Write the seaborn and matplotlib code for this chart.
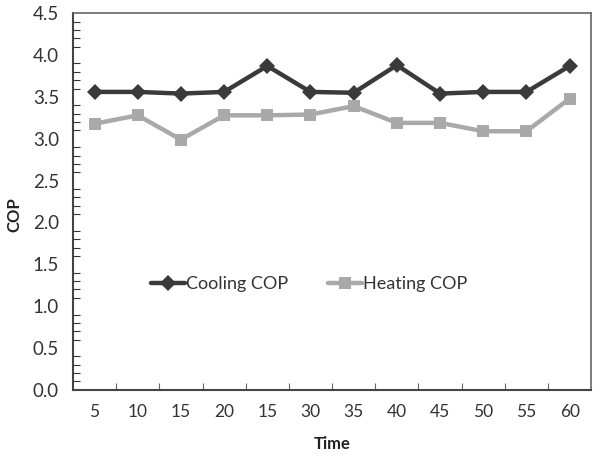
import numpy as np
import pandas as pd
import matplotlib
matplotlib.use("Agg")
import matplotlib.pyplot as plt
import seaborn as sns
from matplotlib.ticker import MultipleLocator, FixedLocator

# Data
time_labels = ["5", "10", "15", "20", "15", "30", "35", "40", "45", "50", "55", "60"]
cooling_cop = [3.56, 3.56, 3.54, 3.56, 3.87, 3.56, 3.55, 3.88, 3.54, 3.56, 3.56, 3.87]
heating_cop = [3.18, 3.28, 2.99, 3.28, 3.28, 3.29, 3.39, 3.19, 3.19, 3.09, 3.09, 3.48]

sns.set_theme(style="white")
plt.rcParams["font.family"] = ["Lato", "DejaVu Sans"]

pos = np.arange(len(time_labels))
df = pd.DataFrame({"pos": np.concatenate([pos, pos]),
                   "COP": cooling_cop + heating_cop,
                   "series": ["Cooling COP"] * len(pos) + ["Heating COP"] * len(pos)})

fig = plt.figure(figsize=(5.93, 4.57), dpi=100)
ax = fig.add_axes([0.123, 0.147, 0.874, 0.824])

sns.lineplot(data=df, x="pos", y="COP", hue="series", style="series",
             palette={"Cooling COP": "#3a3a3a", "Heating COP": "#a9a9a9"},
             markers={"Cooling COP": "D", "Heating COP": "s"},
             dashes=False, linewidth=3.2, markersize=8, markeredgewidth=0, ax=ax)

ax.set_xlim(-0.5, len(pos) - 0.5)
ax.set_ylim(0, 4.5)
ax.set_xticks(pos)
ax.set_xticklabels(time_labels, fontsize=12.5, color="#333333")
ax.xaxis.set_minor_locator(FixedLocator(pos[:-1] + 0.5))
ax.yaxis.set_major_locator(MultipleLocator(0.5))
ax.yaxis.set_major_formatter(matplotlib.ticker.FormatStrFormatter("%.1f"))
ax.yaxis.set_minor_locator(MultipleLocator(0.1))
ax.tick_params(axis="y", labelsize=13.5, colors="#333333", which="both", direction="in",
               left=True, length=5, width=0.8)
ax.tick_params(axis="y", which="major", length=0, pad=10)
ax.tick_params(axis="x", which="major", length=0, pad=10)
ax.tick_params(axis="x", which="minor", direction="in", bottom=True, length=5, width=0.8, colors="#666666")
for lab in ax.get_yticklabels():
    lab.set_color("#333333")

for side in ["left", "bottom"]:
    ax.spines[side].set_color("#444444")
    ax.spines[side].set_linewidth(1.5)
for side in ["top", "right"]:
    ax.spines[side].set_color("#666666")
    ax.spines[side].set_linewidth(1.2)

ax.set_xlabel("Time", fontsize=12, fontweight="bold", color="#222222", labelpad=12)
ax.set_ylabel("")
fig.text(0.024, 0.53, "COP", rotation=90, ha="center", va="center",
         fontsize=12, fontweight="bold", color="#222222")

ax.legend(loc="center", bbox_to_anchor=(0.455, 0.28), ncol=2, frameon=False,
          fontsize=13, handlelength=1.9, handletextpad=0.05, columnspacing=2.2,
          labelcolor="#333333")

fig.savefig("out.png", dpi=100)
